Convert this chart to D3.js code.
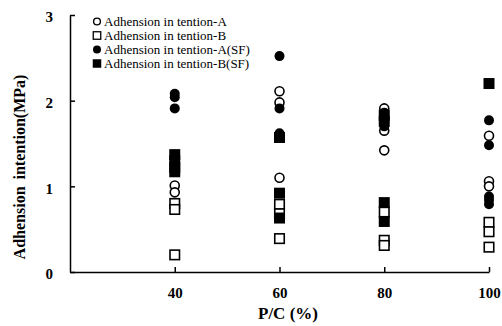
<!DOCTYPE html>
<meta charset="utf-8">
<style>
  body { margin: 0; background: #fff; }
  svg text { font-family: "Liberation Serif", "Times New Roman", serif; fill: #000; }
  .axis path, .axis line { stroke: #000; stroke-width: 1.5px; }
  .axis text { font-size: 15px; font-weight: bold; font-family: "Liberation Serif", serif; }
</style>
<body></body>
<script src="https://d3js.org/d3.v7.min.js"></script>
<script>

// P/C levels and values
var pcLevels = [40, 60, 80, 100];

var tensionA   = [[1.01, 0.93], [2.11, 1.98, 1.10], [1.91, 1.65, 1.42], [1.59, 1.06, 1.00]];
var tensionB   = [[0.80, 0.73, 0.20], [0.79, 0.68, 0.39], [0.70, 0.37, 0.31], [0.58, 0.47, 0.29]];
var tensionASF = [[2.08, 2.04, 1.91], [2.52, 1.91, 1.62, 1.58], [1.86, 1.78, 1.70], [1.77, 1.48, 0.88, 0.84, 0.79]];
var tensionBSF = [[1.37, 1.30, 1.22, 1.17], [1.57, 0.92, 0.63], [1.83, 1.76, 0.81, 0.59], [2.20]];

var xTicks = [40, 60, 80, 100];
var yTicks = [0, 1, 2, 3];

var series = [
  {name: "Adhension in tention-A",     shape: "circle", filled: false, vals: tensionA},
  {name: "Adhension in tention-B",     shape: "square", filled: false, vals: tensionB},
  {name: "Adhension in tention-A(SF)", shape: "circle", filled: true,  vals: tensionASF},
  {name: "Adhension in tention-B(SF)", shape: "square", filled: true,  vals: tensionBSF}
];

var width = 502, height = 326;

var svg = d3.select("body").append("svg")
    .attr("width", width)
    .attr("height", height);

var x = d3.scaleLinear().domain([20, 100]).range([70, 489]);
var y = d3.scaleLinear().domain([0, 3]).range([272, 15]);

var xAxis = d3.axisBottom(x).tickValues(xTicks).tickFormat(d3.format("d"))
    .tickSizeInner(-5).tickSizeOuter(0).tickPadding(15);
var yAxis = d3.axisLeft(y).tickValues(yTicks).tickFormat(d3.format("d"))
    .tickSizeInner(-5).tickSizeOuter(0).tickPadding(17);

svg.append("g")
    .attr("class", "axis")
    .attr("transform", "translate(0," + y(0) + ")")
    .call(xAxis);

var gy = svg.append("g")
    .attr("class", "axis")
    .attr("transform", "translate(" + x(20) + ",0)")
    .call(yAxis);
gy.selectAll(".tick text").attr("dy", "0.45em");

// axis titles
svg.append("text")
    .attr("x", 288)
    .attr("y", 319)
    .attr("text-anchor", "middle")
    .style("font-size", "17px")
    .style("font-weight", "bold")
    .text("P/C (%)");

svg.append("text")
    .attr("transform", "translate(25,167) rotate(-90)")
    .attr("text-anchor", "middle")
    .style("font-size", "16px")
    .style("font-weight", "bold")
    .style("word-spacing", "3px")
    .text("Adhension intention(MPa)");

function drawMarker(g, shape, filled, cx, cy) {
  if (shape === "circle") {
    g.append("circle")
      .attr("cx", cx).attr("cy", cy)
      .attr("r", filled ? 5 : 4.5)
      .attr("fill", filled ? "#000" : "#fff")
      .attr("stroke", "#000")
      .attr("stroke-width", filled ? 0 : 1.6);
  } else {
    var s = filled ? 11 : 9.5;
    g.append("rect")
      .attr("x", cx - s / 2).attr("y", cy - s / 2)
      .attr("width", s).attr("height", s)
      .attr("fill", filled ? "#000" : "#fff")
      .attr("stroke", "#000")
      .attr("stroke-width", filled ? 0 : 1.6);
  }
}

// points: draw in series order so later ones sit on top
var marks = svg.append("g");
series.forEach(function (s) {
  s.vals.forEach(function (list, i) {
    list.forEach(function (v) {
      drawMarker(marks, s.shape, s.filled, x(pcLevels[i]), y(v));
    });
  });
});

// legend
var legend = svg.append("g");
series.forEach(function (s, i) {
  var ly = 21.5 + i * 14;
  var lg = legend.append("g");
  if (s.shape === "circle") {
    lg.append("circle")
      .attr("cx", 97).attr("cy", ly)
      .attr("r", s.filled ? 4 : 3.4)
      .attr("fill", s.filled ? "#000" : "#fff")
      .attr("stroke", "#000")
      .attr("stroke-width", s.filled ? 0 : 1.4);
  } else {
    var sz = s.filled ? 8.5 : 7.5;
    lg.append("rect")
      .attr("x", 97 - sz / 2).attr("y", ly - sz / 2)
      .attr("width", sz).attr("height", sz)
      .attr("fill", s.filled ? "#000" : "#fff")
      .attr("stroke", "#000")
      .attr("stroke-width", s.filled ? 0 : 1.3);
  }
  lg.append("text")
    .attr("x", 104)
    .attr("y", ly + 4.5)
    .style("font-size", "13px")
    .text(s.name);
});

</script>
